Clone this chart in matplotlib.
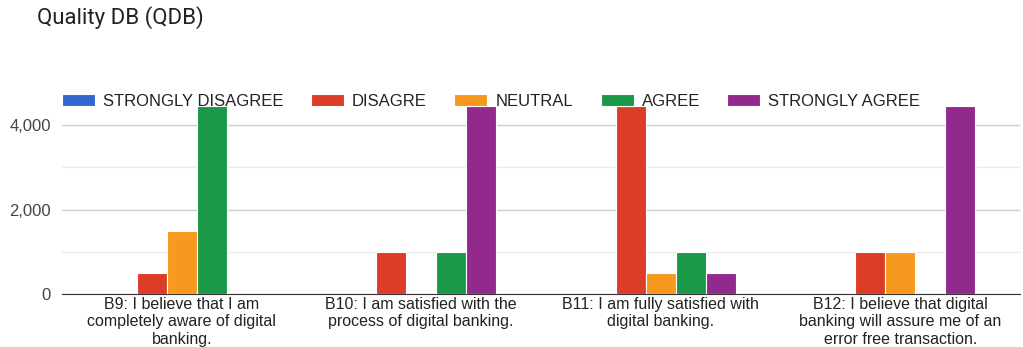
import numpy as np
import matplotlib
matplotlib.use("Agg")
import matplotlib.pyplot as plt
from matplotlib.ticker import FuncFormatter, MultipleLocator

# data
questions = ["B9: I believe that I am\ncompletely aware of digital\nbanking.",
             "B10: I am satisfied with the\nprocess of digital banking.",
             "B11: I am fully satisfied with\ndigital banking.",
             "B12: I believe that digital\nbanking will assure me of an\nerror free transaction."]
series = ["STRONGLY DISAGREE", "DISAGRE", "NEUTRAL", "AGREE", "STRONGLY AGREE"]
strongly_disagree = [0, 0, 0, 0]
disagree          = [500, 1000, 4450, 1000]
neutral           = [1500, 0, 500, 1000]
agree             = [4450, 1000, 1000, 0]
strongly_agree    = [0, 4450, 500, 4450]
colors = ["#3366cc", "#dc3d27", "#f7991e", "#1a9848", "#922a8e"]

W, H = 1023, 347
fig = plt.figure(figsize=(W/100, H/100), dpi=100)
ax = fig.add_axes([62/W, (H-294)/H, (1020-62)/W, (294-98)/H])

vals = [strongly_disagree, disagree, neutral, agree, strongly_agree]
x = np.arange(len(questions))
bw = 0.125
handles = []
for i, (name, v) in enumerate(zip(series, vals)):
    b = ax.bar(x + (i-2)*bw, v, bw, color=colors[i], edgecolor="white",
               linewidth=0.8, label=name, zorder=3)
    handles.append(b)

ax.set_xlim(-0.5, len(questions)-0.5)
ax.set_ylim(0, 4640)
ax.yaxis.set_major_locator(MultipleLocator(2000))
ax.yaxis.set_minor_locator(MultipleLocator(1000))
ax.yaxis.set_major_formatter(FuncFormatter(lambda v, p: f"{int(v):,}"))
ax.grid(axis="y", which="major", color="#cccccc", linewidth=1, zorder=0)
ax.grid(axis="y", which="minor", color="#ebebeb", linewidth=1, zorder=0)
for s in ["top", "right", "left"]:
    ax.spines[s].set_visible(False)
ax.spines["bottom"].set_color("#333333")
ax.tick_params(axis="both", which="both", length=0)
ax.tick_params(axis="y", labelsize=12, labelcolor="#444444", pad=8)
ax.set_xticks(x)
ax.set_xticklabels(questions, fontsize=11.5, color="#222222", linespacing=1.2,
                   fontfamily="Liberation Sans")
ax.tick_params(axis="x", pad=2)
for t in ax.get_yticklabels():
    t.set_fontfamily("Liberation Sans")

fig.text(37/W, 1-18/H, "Quality DB (QDB)", fontsize=16, color="#222222",
         fontfamily="Roboto", va="center", ha="left")

fig.legend(handles=handles, labels=series, loc="center left",
           bbox_to_anchor=(62/W, 1-101/H), ncol=5, frameon=False,
           prop={"family": "Liberation Sans", "size": 12},
           borderpad=0, borderaxespad=0, handlelength=1.98, handleheight=0.72,
           handletextpad=0.48, columnspacing=1.65, labelcolor="#222222")

fig.savefig("out.png", dpi=100)
